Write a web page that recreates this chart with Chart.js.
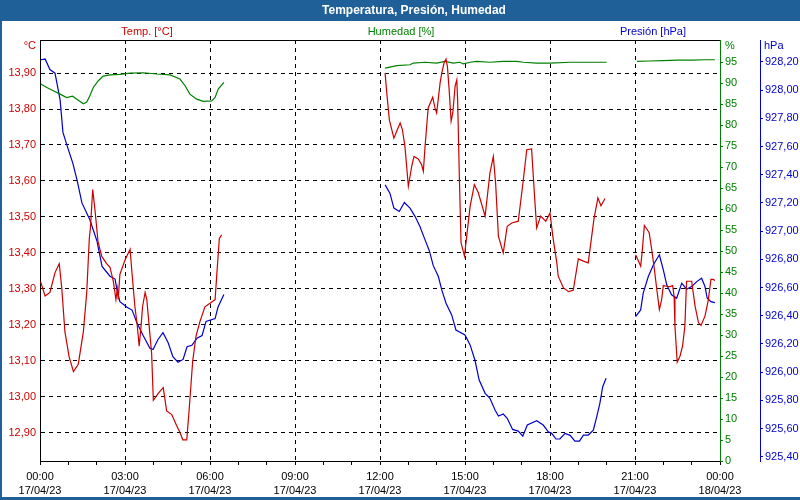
<!DOCTYPE html>
<html>
<head>
<meta charset="utf-8">
<script src="https://cdn.jsdelivr.net/npm/chart.js@4.4.1/dist/chart.umd.min.js"></script>
<style>
  body { margin: 0; background: #fff; }
  canvas { display: block; }
</style>
</head>
<body>
<canvas id="chart" width="800" height="500"></canvas>
<script>
// Hours since 17/04/23 00:00, null values break the line where data is missing
const tempTime = [
  0.02, 0.18, 0.35, 0.53, 0.68, 0.77, 0.88, 1.03, 1.18, 1.35,
  1.53, 1.65, 1.74, 1.78, 1.86, 1.94, 2.05, 2.18, 2.35, 2.47,
  2.59, 2.68, 2.73, 2.76, 2.82, 3.00, 3.18, 3.24, 3.35, 3.43,
  3.50, 3.56, 3.62, 3.71, 3.77, 3.86, 3.94, 4.00, 4.18, 4.35,
  4.47, 4.65, 4.82, 4.94, 5.04, 5.18, 5.27, 5.39, 5.51, 5.65,
  5.82, 6.00, 6.18, 6.24, 6.33, 6.41,
  9.0,
  12.18, 12.24, 12.33, 12.49, 12.59, 12.71, 12.79, 12.88, 12.94, 13.00,
  13.06, 13.12, 13.20, 13.35, 13.47, 13.53, 13.59, 13.70, 13.86, 13.94,
  14.00, 14.12, 14.18, 14.26, 14.33, 14.38, 14.44, 14.51, 14.57, 14.65,
  14.71, 14.74, 14.80, 14.86, 14.98, 15.04, 15.18, 15.33, 15.47, 15.71,
  15.88, 16.00, 16.08, 16.18, 16.35, 16.49, 16.65, 16.88, 17.06, 17.18,
  17.35, 17.47, 17.53, 17.67, 17.85, 18.00, 18.10, 18.24, 18.29, 18.47,
  18.65, 18.82, 19.00, 19.18, 19.35, 19.41, 19.55, 19.69, 19.80, 19.94,
  20.5,
  21.02, 21.12, 21.20, 21.25, 21.33, 21.41, 21.50, 21.59, 21.67, 21.77,
  21.86, 21.94, 22.00, 22.12, 22.24, 22.33, 22.38, 22.41, 22.49, 22.59,
  22.68, 22.76, 22.82, 23.00, 23.12, 23.24, 23.33, 23.47, 23.59, 23.68,
  23.76, 23.82
];
const tempValues = [
  13.32, 13.28, 13.29, 13.345, 13.37, 13.30, 13.18, 13.11, 13.07, 13.09,
  13.18, 13.29, 13.44, 13.47, 13.576, 13.52, 13.43, 13.39, 13.37, 13.36,
  13.32, 13.27, 13.30, 13.27, 13.34, 13.38, 13.41, 13.35, 13.25, 13.20,
  13.14, 13.19, 13.25, 13.29, 13.27, 13.19, 13.12, 12.99, 13.01, 13.025,
  12.96, 12.95, 12.92, 12.90, 12.88, 12.88, 12.97, 13.10, 13.17, 13.21,
  13.25, 13.26, 13.27, 13.34, 13.44, 13.45,
  null,
  13.90, 13.844, 13.77, 13.719, 13.738, 13.761, 13.743, 13.696, 13.641, 13.585,
  13.613, 13.641, 13.668, 13.661, 13.645, 13.627, 13.696, 13.803, 13.833, 13.803,
  13.789, 13.872, 13.90, 13.928, 13.939, 13.918, 13.854, 13.766, 13.789, 13.863,
  13.881, 13.826, 13.613, 13.428, 13.391, 13.432, 13.529, 13.59, 13.567, 13.502,
  13.622, 13.668, 13.594, 13.446, 13.40, 13.474, 13.483, 13.488, 13.604, 13.687,
  13.689, 13.539, 13.469, 13.502, 13.488, 13.511, 13.446, 13.372, 13.335, 13.303,
  13.292, 13.296, 13.383, 13.377, 13.372, 13.409, 13.493, 13.553, 13.531, 13.551,
  null,
  13.395, 13.377, 13.363, 13.40, 13.476, 13.467, 13.456, 13.409, 13.363, 13.298,
  13.242, 13.27, 13.309, 13.307, 13.306, 13.309, 13.279, 13.196, 13.096, 13.113,
  13.141, 13.196, 13.321, 13.321, 13.252, 13.206, 13.198, 13.224, 13.27, 13.326,
  13.326, 13.323
];

const humTime = [
  0.03, 0.24, 0.47, 0.71, 0.94, 1.15, 1.30, 1.53, 1.65, 1.76,
  1.88, 2.06, 2.23, 2.47, 2.82, 3.18, 3.65, 4.12, 4.59, 4.94,
  5.12, 5.29, 5.53, 5.76, 6.06, 6.18, 6.29, 6.49,
  9.0,
  12.18, 12.59, 13.06, 13.18, 13.59, 14.00, 14.29, 14.59, 14.82, 14.94,
  15.18, 15.41, 15.88, 16.35, 16.82, 17.06, 17.53, 18.00, 18.71, 19.35, 20.00,
  20.5,
  21.07, 21.50, 22.00, 22.50, 23.00, 23.50, 23.82
];
const humValues = [
  89.8, 89.0, 88.2, 87.4, 86.6, 86.9, 86.2, 85.1, 85.5, 87.0,
  89.0, 90.6, 91.7, 92.0, 92.1, 92.4, 92.5, 92.2, 92.0, 91.0,
  89.4, 87.4, 86.2, 85.7, 85.8, 86.6, 88.6, 90.2,
  null,
  93.6, 94.2, 94.4, 94.8, 95.0, 94.8, 95.2, 94.8, 95.0, 94.6,
  95.0, 95.2, 95.0, 95.2, 95.2, 95.0, 94.8, 94.8, 95.0, 95.0, 95.0,
  null,
  95.2, 95.3, 95.4, 95.5, 95.5, 95.6, 95.6
];

const presTime = [
  0.03, 0.18, 0.35, 0.53, 0.71, 0.81, 0.95, 1.16, 1.31, 1.48,
  1.76, 2.01, 2.19, 2.47, 2.65, 2.72, 2.82, 3.07, 3.25, 3.42,
  3.64, 3.88, 3.99, 4.16, 4.34, 4.52, 4.69, 4.87, 5.05, 5.19,
  5.36, 5.54, 5.72, 5.86, 6.18, 6.28, 6.49,
  9.0,
  12.18, 12.35, 12.49, 12.68, 12.86, 13.06, 13.24, 13.41, 13.59, 13.74,
  13.88, 14.06, 14.18, 14.33, 14.53, 14.68, 15.00, 15.18, 15.35, 15.50,
  15.71, 15.88, 16.06, 16.18, 16.35, 16.49, 16.68, 16.88, 17.04, 17.20,
  17.53, 17.76, 17.94, 18.06, 18.21, 18.35, 18.53, 18.71, 18.88, 19.04,
  19.18, 19.35, 19.53, 19.65, 19.76, 19.86, 19.98,
  20.5,
  21.02, 21.20, 21.29, 21.47, 21.65, 21.86, 22.00, 22.12, 22.29, 22.47,
  22.65, 22.82, 23.00, 23.18, 23.35, 23.47, 23.55, 23.68, 23.82
];
const presValues = [
  928.215, 928.22, 928.145, 928.12, 927.93, 927.70, 927.61, 927.48, 927.36, 927.20,
  927.08, 926.93, 926.75, 926.68, 926.66, 926.58, 926.50, 926.46, 926.44, 926.35,
  926.26, 926.17, 926.16, 926.23, 926.28, 926.21, 926.11, 926.07, 926.09, 926.18,
  926.19, 926.24, 926.26, 926.36, 926.38, 926.46, 926.55,
  null,
  927.328, 927.269, 927.163, 927.139, 927.203, 927.163, 927.103, 927.032, 926.938, 926.861,
  926.755, 926.678, 926.583, 926.489, 926.406, 926.299, 926.264, 926.193, 926.086, 925.944,
  925.850, 925.814, 925.731, 925.689, 925.703, 925.673, 925.594, 925.582, 925.547, 925.625,
  925.655, 925.625, 925.577, 925.566, 925.526, 925.526, 925.566, 925.552, 925.511, 925.511,
  925.554, 925.554, 925.589, 925.684, 925.779, 925.897, 925.956,
  null,
  926.394, 926.441, 926.560, 926.678, 926.761, 926.832, 926.725, 926.619, 926.548, 926.524,
  926.631, 926.588, 926.607, 926.642, 926.666, 926.607, 926.524, 926.500, 926.493
];

// Axis labels
const dayLabels = ["17/04/23", "18/04/23"];
const seriesLabels = ["Temp. [°C]", "Humedad [%]", "Presión [hPa]"];
const unitLabels = ["°C", "%", "hPa"];
const chartTitle = "Temperatura, Presión, Humedad";

const RED = "#cc0000";
const GREEN = "#008000";
const BLUE = "#0000cc";
const BAR = "#1f6098";
const FONT = "'Liberation Sans', Arial, sans-serif";

Chart.defaults.font.family = FONT;
Chart.defaults.font.size = 11;

function toPoints(times, values) {
  return times.map((t, i) => ({ x: t, y: values[i] }));
}

function comma(v) {
  return v.toFixed(2).replace(".", ",");
}

// Title bar, window frame, header labels and unit captions
const framePlugin = {
  id: "frame",
  beforeDraw(chart) {
    const { ctx, width, height } = chart;
    ctx.save();
    ctx.fillStyle = "#fff";
    ctx.fillRect(0, 0, width, height);
    ctx.fillStyle = BAR;
    ctx.fillRect(0, 0, width, 21);
    ctx.fillRect(0, 0, 2, height);
    ctx.fillRect(0, height - 3, width, 3);
    ctx.fillStyle = "#fff";
    ctx.font = "bold 12px " + FONT;
    ctx.textAlign = "center";
    ctx.textBaseline = "middle";
    ctx.fillText(chartTitle, width / 2 + 14, 10.5);
    ctx.restore();
  },
  afterDraw(chart) {
    const { ctx, chartArea: a, scales } = chart;
    ctx.save();
    ctx.strokeStyle = "#000";
    ctx.lineWidth = 1;
    ctx.beginPath();
    ctx.moveTo(a.left, Math.round(a.top) + 0.5);
    ctx.lineTo(a.right, Math.round(a.top) + 0.5);
    ctx.stroke();

    ctx.font = "11px " + FONT;
    ctx.textBaseline = "middle";
    const colors = [RED, GREEN, BLUE];
    const centers = [147, 401, 653];
    ctx.textAlign = "center";
    seriesLabels.forEach((s, i) => {
      ctx.fillStyle = colors[i];
      ctx.fillText(s, centers[i], 32);
    });

    const y = a.top + 6;
    ctx.textAlign = "right";
    ctx.fillStyle = RED;
    ctx.fillText(unitLabels[0], scales.yT.right - 4, y);
    ctx.textAlign = "left";
    ctx.fillStyle = GREEN;
    ctx.fillText(unitLabels[1], scales.yH.left + 5, y);
    ctx.fillStyle = BLUE;
    ctx.fillText(unitLabels[2], scales.yP.left + 4, y);
    ctx.restore();
  }
};

const ctx = document.getElementById("chart").getContext("2d");
new Chart(ctx, {
  type: "line",
  data: {
    datasets: [
      { label: seriesLabels[0], data: toPoints(tempTime, tempValues), yAxisID: "yT", borderColor: RED },
      { label: seriesLabels[1], data: toPoints(humTime, humValues), yAxisID: "yH", borderColor: GREEN },
      { label: seriesLabels[2], data: toPoints(presTime, presValues), yAxisID: "yP", borderColor: BLUE }
    ]
  },
  options: {
    responsive: false,
    animation: false,
    spanGaps: false,
    elements: {
      point: { radius: 0 },
      line: { borderWidth: 1.2, tension: 0, fill: false }
    },
    layout: { padding: { top: 40, left: 0, right: 0, bottom: 0 } },
    plugins: {
      legend: { display: false },
      title: { display: false },
      tooltip: { enabled: false }
    },
    scales: {
      x: {
        type: "linear",
        position: "bottom",
        min: 0,
        max: 24,
        ticks: {
          stepSize: 1,
          autoSkip: false,
          maxRotation: 0,
          color: "#000",
          padding: 5,
          font: { size: 11, lineHeight: 1.3 },
          callback: v => {
            if (v % 3 !== 0) return "";
            const hh = String(v % 24).padStart(2, "0") + ":00";
            return [hh, v === 24 ? dayLabels[1] : dayLabels[0]];
          }
        },
        grid: {
          color: c => (c.tick && c.tick.value % 3 === 0 && c.tick.value > 0 && c.tick.value < 24) ? "#000" : "transparent",
          tickColor: "#000",
          tickLength: 4,
          lineWidth: 1
        },
        border: { color: "#000", dash: [4, 4] },
        afterFit: s => { s.height = 39; }
      },
      yT: {
        position: "left",
        min: 12.821,
        max: 13.992,
        ticks: {
          stepSize: 0.1,
          includeBounds: false,
          color: RED,
          padding: 4,
          callback: v => comma(v)
        },
        grid: { drawTicks: false, color: "#000", lineWidth: 1 },
        border: { color: "#000", dash: [4, 4] },
        afterFit: s => { s.width = 40; }
      },
      yH: {
        position: "right",
        weight: 1,
        min: 0,
        max: 100.3,
        ticks: {
          stepSize: 5,
          includeBounds: false,
          color: GREEN,
          padding: 2
        },
        afterBuildTicks: s => { s.ticks = s.ticks.filter(t => t.value <= 95); },
        grid: { drawOnChartArea: false, color: GREEN, tickLength: 3 },
        border: { color: GREEN },
        afterFit: s => { s.width = 40; }
      },
      yP: {
        position: "right",
        weight: 2,
        min: 925.37,
        max: 928.355,
        ticks: {
          stepSize: 0.2,
          includeBounds: false,
          color: BLUE,
          padding: 2,
          callback: v => comma(v)
        },
        grid: { drawOnChartArea: false, color: BLUE, tickLength: 3 },
        border: { color: BLUE },
        afterFit: s => { s.width = 40; }
      }
    }
  },
  plugins: [framePlugin]
});
</script>
</body>
</html>
